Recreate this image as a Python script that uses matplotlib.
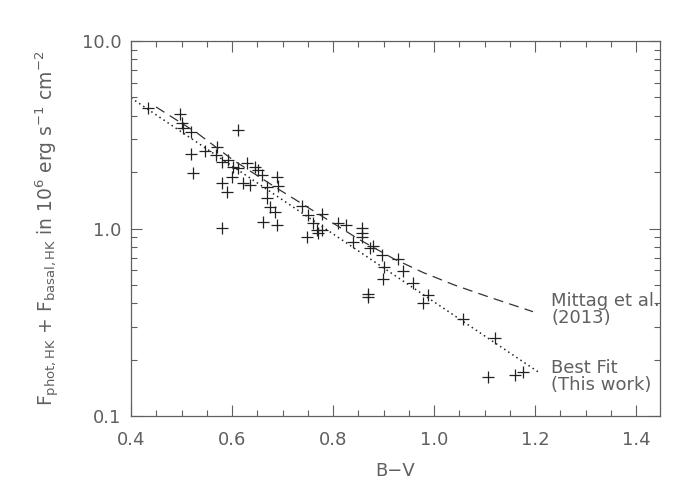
import matplotlib
matplotlib.use("Agg")
import matplotlib.pyplot as plt
from matplotlib.ticker import FixedLocator, FixedFormatter, LogLocator, NullFormatter, MultipleLocator

# Observed stars: B-V colour and flux (10^6 erg s^-1 cm^-2)
bv = [0.434, 0.497, 0.501, 0.503, 0.519, 0.612, 0.519, 0.547, 0.570, 0.568,
      0.523, 0.580, 0.592, 0.602, 0.612, 0.630, 0.646, 0.651, 0.659, 0.689,
      0.580, 0.590, 0.600, 0.622, 0.636, 0.669, 0.691, 0.669, 0.675, 0.685,
      0.661, 0.689, 0.580, 0.739, 0.750, 0.778, 0.760, 0.768, 0.778, 0.749,
      0.770, 0.810, 0.826, 0.857, 0.857, 0.857, 0.840, 0.873, 0.879, 0.897,
      0.929, 0.901, 0.899, 0.939, 0.958, 0.869, 0.869, 0.988, 0.978, 1.057,
      1.121, 1.107, 1.160, 1.176]
flux = [4.40, 4.08, 3.66, 3.44, 3.27, 3.35, 2.49, 2.59, 2.72, 2.47,
        1.98, 2.26, 2.32, 2.13, 2.10, 2.24, 2.13, 2.05, 1.93, 1.88,
        1.75, 1.57, 1.88, 1.75, 1.71, 1.66, 1.69, 1.46, 1.30, 1.22,
        1.08, 1.04, 1.01, 1.32, 1.18, 1.19, 1.07, 0.98, 0.98, 0.90,
        0.95, 1.07, 1.04, 1.01, 0.95, 0.90, 0.85, 0.79, 0.81, 0.72,
        0.69, 0.62, 0.54, 0.59, 0.51, 0.45, 0.43, 0.44, 0.40, 0.33,
        0.26, 0.161, 0.166, 0.172]

# Best fit (this work), straight in log space
fit_bv = [0.40, 1.206]
fit_flux = [4.97, 0.172]

# Mittag et al. (2013) relation
mit_bv = [0.4495, 0.531, 0.602, 0.689, 0.768, 0.850, 0.920, 0.980, 1.040, 1.110, 1.196]
mit_flux = [4.45, 3.23, 2.32, 1.64, 1.21, 0.88, 0.69, 0.58, 0.50, 0.43, 0.36]

xticks = [0.4, 0.6, 0.8, 1.0, 1.2, 1.4]
yticks = [0.1, 1.0, 10.0]
ytick_labels = ["0.1", "1.0", "10.0"]

plt.rcParams['font.family'] = ['DejaVu Sans']
plt.rcParams['mathtext.fontset'] = 'dejavusans'

gray = '#606060'
fig = plt.figure(figsize=(7, 5), dpi=100)
ax = fig.add_axes([131/700, 1-416/500, (660-131)/700, (416-41)/500])

ax.plot(bv, flux, linestyle='none', marker='+', markersize=9,
        markeredgewidth=0.9, color='#222222')
ax.plot(fit_bv, fit_flux, color='#222222', linewidth=1.1,
        dashes=(1, 2.2))
ax.plot(mit_bv, mit_flux, color='#333333', linewidth=0.9,
        dashes=(8, 5))

ax.set_yscale('log')
ax.set_xlim(0.4, 1.4475)
ax.set_ylim(0.1, 10.0)

ax.xaxis.set_major_locator(FixedLocator(xticks))
ax.xaxis.set_major_formatter(FixedFormatter([f"{v:.1f}" for v in xticks]))
ax.xaxis.set_minor_locator(MultipleLocator(0.05))
ax.yaxis.set_major_locator(FixedLocator(yticks))
ax.yaxis.set_major_formatter(FixedFormatter(ytick_labels))
ax.yaxis.set_minor_locator(LogLocator(base=10, subs=range(2, 10)))
ax.yaxis.set_minor_formatter(NullFormatter())

ax.tick_params(which='both', direction='in', top=True, right=True,
               colors=gray, labelcolor=gray)
ax.tick_params(which='major', length=8, width=0.8, labelsize=13)
ax.tick_params(axis='x', which='major', pad=11)
ax.tick_params(axis='y', which='major', pad=7)
ax.tick_params(which='minor', length=4, width=0.8)
for sp in ax.spines.values():
    sp.set_color(gray)
    sp.set_linewidth(0.9)

ax.set_xlabel('B\u2212V', fontsize=13, color=gray, labelpad=9)
ax.set_ylabel(r'F$_{\rm phot,HK}$ + F$_{\rm basal,HK}$ in 10$^{6}$ erg s$^{-1}$ cm$^{-2}$',
              fontsize=13.5, color=gray, labelpad=14)

ax.text(1.232, 0.37, 'Mittag et al.\n(2013)', fontsize=13, color=gray,
        ha='left', va='center', linespacing=0.95)
ax.text(1.232, 0.163, 'Best Fit\n(This work)', fontsize=13, color=gray,
        ha='left', va='center', linespacing=0.95)

fig.savefig('out.png', dpi=100)
